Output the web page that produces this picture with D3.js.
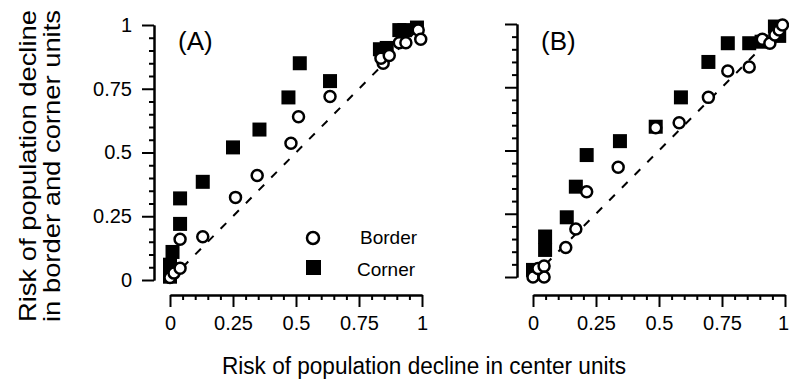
<!DOCTYPE html>
<html>
<head>
<meta charset="utf-8">
<script src="https://cdn.jsdelivr.net/npm/d3@7"></script>
<style>
  body { margin: 0; background: #fff; }
  svg { display: block; font-family: "Liberation Sans", Arial, sans-serif; }
</style>
</head>
<body>
<svg id="chart" width="789" height="382"></svg>
<script>
// panel A (center risk, border/corner risk)
const borderA = [[0, 0.01], [0.016, 0.027], [0.04, 0.046], [0.04, 0.16], [0.13, 0.17],
  [0.26, 0.324], [0.346, 0.41], [0.48, 0.536], [0.51, 0.64], [0.635, 0.72],
  [0.846, 0.85], [0.837, 0.87], [0.87, 0.88], [0.91, 0.93], [0.936, 0.93],
  [0.985, 0.98], [0.995, 0.944]];
const cornerA = [[0, 0.013], [0, 0.06], [0.01, 0.11], [0.04, 0.22], [0.04, 0.32],
  [0.13, 0.385], [0.25, 0.52], [0.355, 0.59], [0.47, 0.716], [0.515, 0.85],
  [0.635, 0.78], [0.833, 0.905], [0.86, 0.91], [0.91, 0.98], [0.93, 0.98], [0.98, 0.99]];
// panel B
const borderB = [[0, 0], [0.044, 0], [0.02, 0.034], [0.044, 0.043], [0.13, 0.117],
  [0.17, 0.19], [0.213, 0.337], [0.338, 0.434], [0.487, 0.59], [0.58, 0.61],
  [0.696, 0.71], [0.773, 0.814], [0.858, 0.83], [0.91, 0.94], [0.94, 0.924],
  [0.96, 0.957], [0.977, 0.976], [0.99, 0.996]];
const cornerB = [[0, 0.028], [0.048, 0.107], [0.048, 0.16], [0.134, 0.236], [0.17, 0.357],
  [0.213, 0.482], [0.345, 0.537], [0.487, 0.594], [0.587, 0.71], [0.696, 0.85],
  [0.773, 0.924], [0.858, 0.924], [0.907, 0.93], [0.96, 0.99], [0.977, 0.953]];

const majorTicks = [0, 0.25, 0.5, 0.75, 1];
const tickLabels = ["0", "0.25", "0.5", "0.75", "1"];
const minorTicks = d3.range(0, 1.0001, 0.05).filter((d) => Math.abs(d * 4 - Math.round(d * 4)) > 1e-6);

const svg = d3.select("#chart");

const panels = [
  { name: "(A)", border: borderA, corner: cornerA, xr: [170, 422], yr: [280, 25], ax: 154, ay: 295, yLabels: true, legend: true },
  { name: "(B)", border: borderB, corner: cornerB, xr: [533, 785], yr: [277, 24], ax: 517, ay: 295, yLabels: false, legend: false },
];

panels.forEach((p) => {
  const x = d3.scaleLinear().domain([0, 1]).range(p.xr);
  const y = d3.scaleLinear().domain([0, 1]).range(p.yr);
  const g = svg.append("g");

  // y axis
  const yMajor = d3.axisLeft(y).tickValues(majorTicks).tickSize(12).tickSizeOuter(0).tickPadding(10)
    .tickFormat((d, i) => (p.yLabels ? tickLabels[i] : ""));
  const yMinor = d3.axisLeft(y).tickValues(minorTicks).tickSize(5).tickSizeOuter(0).tickFormat("");
  g.append("g").attr("transform", `translate(${p.ax},0)`).call(yMajor);
  g.append("g").attr("transform", `translate(${p.ax},0)`).call(yMinor);

  // x axis
  const xMajor = d3.axisBottom(x).tickValues(majorTicks).tickSize(12).tickSizeOuter(0).tickPadding(9)
    .tickFormat((d, i) => tickLabels[i]);
  const xMinor = d3.axisBottom(x).tickValues(minorTicks).tickSize(5).tickSizeOuter(0).tickFormat("");
  const xg = g.append("g").attr("transform", `translate(0,${p.ay})`).call(xMajor);
  g.append("g").attr("transform", `translate(0,${p.ay})`).call(xMinor);
  // keep the last label inside the page
  xg.selectAll(".tick text").filter((d) => d === 1 && p.xr[1] > 780).attr("x", -2);

  g.selectAll(".domain, .tick line").attr("stroke", "#000").attr("stroke-width", 2);
  g.selectAll(".tick text").attr("font-size", 20).attr("fill", "#000").style("font-family", "Liberation Sans, Arial, sans-serif");

  // 1:1 line
  g.append("line")
    .attr("x1", x(0)).attr("y1", y(0)).attr("x2", x(1)).attr("y2", y(1))
    .attr("stroke", "#000").attr("stroke-width", 2).attr("stroke-dasharray", "8,10");

  g.selectAll("rect.corner").data(p.corner).join("rect")
    .attr("class", "corner")
    .attr("x", (d) => x(d[0]) - 7).attr("y", (d) => y(d[1]) - 7)
    .attr("width", 14).attr("height", 14).attr("fill", "#000");

  g.selectAll("circle.border").data(p.border).join("circle")
    .attr("class", "border")
    .attr("cx", (d) => x(d[0])).attr("cy", (d) => y(d[1])).attr("r", 5.5)
    .attr("fill", "#fff").attr("stroke", "#000").attr("stroke-width", 2.5);

  g.append("text").attr("x", x(0) + 8).attr("y", 50).attr("font-size", 26).text(p.name);

  if (p.legend) {
    g.append("circle").attr("cx", 313).attr("cy", 238).attr("r", 6)
      .attr("fill", "#fff").attr("stroke", "#000").attr("stroke-width", 2.5);
    g.append("text").attr("x", 360).attr("y", 244).attr("font-size", 19).text("Border");
    g.append("rect").attr("x", 306).attr("y", 260).attr("width", 15).attr("height", 15).attr("fill", "#000");
    g.append("text").attr("x", 357).attr("y", 276).attr("font-size", 19).text("Corner");
  }
});

// axis titles
svg.append("text")
  .attr("x", 424).attr("y", 374).attr("text-anchor", "middle").attr("font-size", 23)
  .attr("textLength", 404).attr("lengthAdjust", "spacingAndGlyphs")
  .text("Risk of population decline in center units");

[["Risk of population decline", 36], ["in border and corner units", 60]].forEach(([t, bx]) => {
  svg.append("text")
    .attr("transform", `translate(${bx},166) rotate(-90)`)
    .attr("text-anchor", "middle").attr("font-size", 24)
    .attr("textLength", 312).attr("lengthAdjust", "spacingAndGlyphs")
    .text(t);
});
</script>
</body>
</html>
